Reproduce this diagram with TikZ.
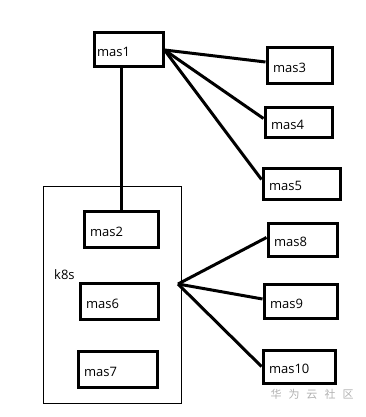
\documentclass[tikz,border=0pt]{standalone}
\usepackage{fontspec}
\setmainfont{Open Sans}
\newfontfamily\cjk{Noto Sans CJK SC}
\begin{document}
\begin{tikzpicture}[x=1pt,y=-1pt,
  masbox/.style={draw, line width=3pt, inner xsep=6pt, inner ysep=0pt, align=left,
    text height=14pt, text depth=0pt, font=\fontsize{13}{15}\selectfont},
  link/.style={line width=3pt}]
\useasboundingbox[fill=white] (0,0) rectangle (366,417);
\node[draw, line width=1pt, minimum width=138pt, minimum height=217pt] (cluster) at (112,294.5) {};
\node[anchor=west, font=\fontsize{13}{15}\selectfont, inner sep=0pt] (k8slabel) at (54,275) {k8s};
\node[masbox, inner xsep=3pt, text width=63pt, minimum height=34pt] (mas1) at (128.5,50) {mas1};
\node[masbox, text width=53pt, minimum height=36pt] (mas3) at (299.5,66) {mas3};
\node[masbox, text width=55pt, minimum height=29pt] (mas4) at (298.5,122.5) {mas4};
\node[masbox, text width=65pt, minimum height=31pt] (mas5) at (301.5,183.5) {mas5};
\node[masbox, text width=62pt, minimum height=36pt] (mas2) at (121,229) {mas2};
\node[masbox, text width=66pt, minimum height=36pt] (mas6) at (119,301) {mas6};
\node[masbox, text width=67pt, minimum height=36pt] (mas7) at (117.5,369) {mas7};
\node[masbox, text width=57pt, minimum height=33pt] (mas8) at (302.5,239.5) {mas8};
\node[masbox, text width=61pt, minimum height=34pt] (mas9) at (300.5,301) {mas9};
\node[masbox, text width=60pt, minimum height=33pt] (mas10) at (299,366.5) {mas10};
\coordinate (hub) at (178,284);
\draw[link] (mas2.north) -- (mas2.north |- mas1.south);
\draw[link] (mas1.east) -- ([yshift=4pt]mas3.west);
\draw[link] (mas1.east) -- ([yshift=4pt]mas4.west);
\draw[link] (mas1.east) -- ([yshift=4pt]mas5.west);
\draw[link] (hub) -- ([yshift=2pt]mas8.west);
\draw[link] (hub) -- ([yshift=2pt]mas9.west);
\draw[link] (hub) -- (mas10.west);
\node[text=black!30, font=\cjk\fontsize{11}{13}\selectfont] (mark) at (312,394)
  {华\hspace{7pt}为\hspace{7pt}云\hspace{7pt}社\hspace{7pt}区};
\end{tikzpicture}
\end{document}
